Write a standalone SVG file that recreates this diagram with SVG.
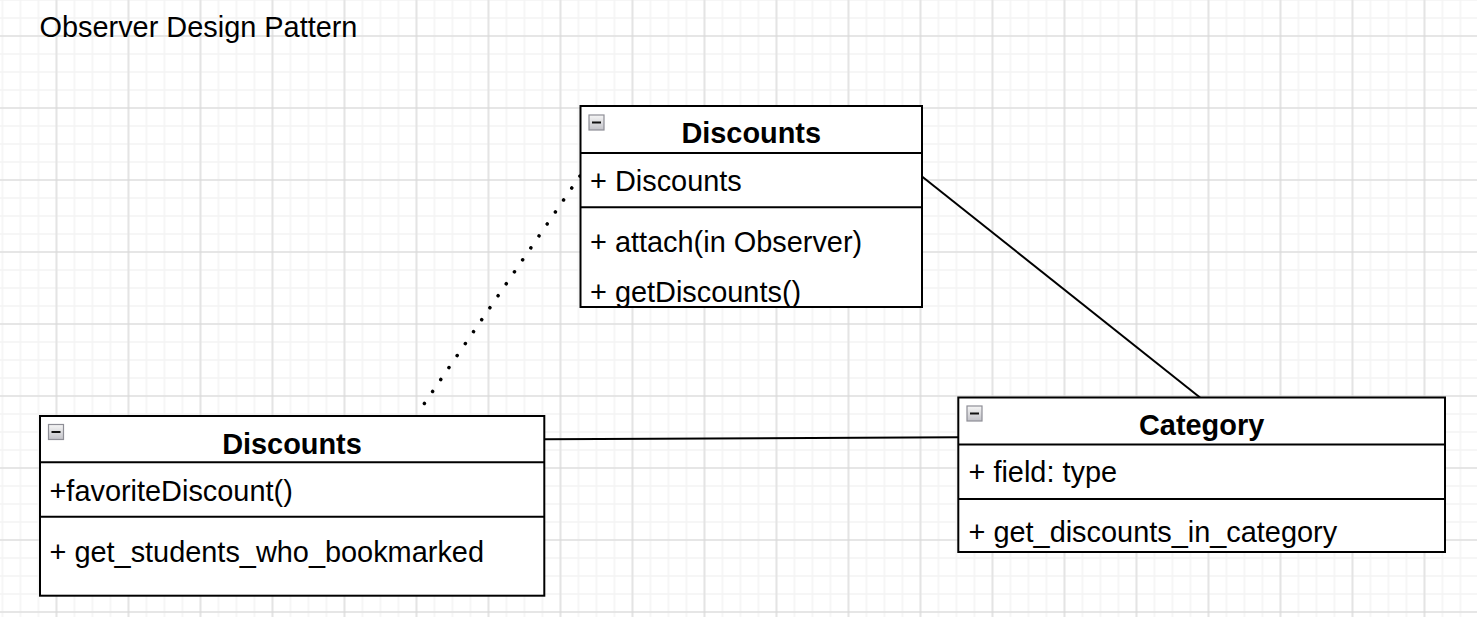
<svg xmlns="http://www.w3.org/2000/svg" width="1477" height="617" viewBox="0 0 1477 617">
  <style>
    text { font-family: "Liberation Sans", Arial, Helvetica, sans-serif; font-size: 28.9px; fill: #000; }
    .hdr { font-weight: bold; text-anchor: middle; }
    .box { fill: #fff; stroke: #000; stroke-width: 2; }
    .sep { stroke: #000; stroke-width: 2; fill: none; }
    .edge { stroke: #000; stroke-width: 2; fill: none; }
    .dot { stroke: #000; stroke-width: 3.5; fill: none; stroke-linecap: round; stroke-dasharray: 0.1 14.4; }
    .ico { stroke: #8e8e96; stroke-width: 1.2; fill: url(#icoGrad); }
    .icobar { stroke: #111; stroke-width: 2; }
  </style>
  <defs>
    <pattern id="minor" patternUnits="userSpaceOnUse" x="-6.5" y="-9" width="18" height="18">
      <path d="M9 0 V18 M0 9 H18" stroke="#f4f4f4" stroke-width="1.6" fill="none"/>
    </pattern>
    <pattern id="major" patternUnits="userSpaceOnUse" x="20.5" y="0" width="72" height="72">
      <path d="M36 0 V72 M0 36 H72" stroke="#d6d6d6" stroke-width="1.1" fill="none"/>
    </pattern>
    <linearGradient id="icoGrad" x1="0" y1="0" x2="0" y2="1">
      <stop offset="0" stop-color="#f6f6f6"/>
      <stop offset="1" stop-color="#c2c2c8"/>
    </linearGradient>
  </defs>

  <rect x="0" y="0" width="1477" height="617" fill="#fff"/>
  <rect x="0" y="0" width="1477" height="617" fill="url(#minor)"/>
  <rect x="0" y="0" width="1477" height="617" fill="url(#major)"/>

  <g id="title">
    <text x="39.5" y="37">Observer Design Pattern</text>
  </g>

  <g id="connectors">
    <line class="dot" x1="580" y1="176" x2="416.5" y2="415"/>
    <line class="edge" x1="922" y1="176.5" x2="1200" y2="397.5"/>
    <line class="edge" x1="544" y1="439.3" x2="958" y2="437.3"/>
  </g>

  <g id="subject-discounts">
    <rect class="box" x="580.5" y="106" width="341.5" height="201"/>
    <line class="sep" x1="580.5" y1="153" x2="922" y2="153"/>
    <line class="sep" x1="580.5" y1="207.3" x2="922" y2="207.3"/>
    <rect class="ico" x="589" y="115" width="15" height="15"/>
    <line class="icobar" x1="592" y1="122.5" x2="601" y2="122.5"/>
    <text class="hdr" x="751.25" y="143.3">Discounts</text>
    <text x="590" y="191">+ Discounts</text>
    <text x="590" y="251.7">+ attach(in Observer)</text>
    <text x="590" y="302">+ getDiscounts()</text>
  </g>

  <g id="observer-discounts">
    <rect class="box" x="40" y="416" width="504.3" height="179.7"/>
    <line class="sep" x1="40" y1="462.3" x2="544.3" y2="462.3"/>
    <line class="sep" x1="40" y1="516.7" x2="544.3" y2="516.7"/>
    <rect class="ico" x="48.5" y="424.5" width="15" height="15"/>
    <line class="icobar" x1="51.5" y1="432" x2="60.5" y2="432"/>
    <text class="hdr" x="292" y="454">Discounts</text>
    <text x="49.5" y="501">+favoriteDiscount()</text>
    <text x="49.5" y="561.7">+ get_students_who_bookmarked</text>
  </g>

  <g id="category">
    <rect class="box" x="958.3" y="397.5" width="486.7" height="154.5"/>
    <line class="sep" x1="958.3" y1="444.5" x2="1445" y2="444.5"/>
    <line class="sep" x1="958.3" y1="499" x2="1445" y2="499"/>
    <rect class="ico" x="967" y="406" width="15" height="15"/>
    <line class="icobar" x1="970" y1="413.5" x2="979" y2="413.5"/>
    <text class="hdr" x="1201.6" y="435">Category</text>
    <text x="968.5" y="481.5">+ field: type</text>
    <text x="968.5" y="542">+ get_discounts_in_category</text>
  </g>
</svg>
